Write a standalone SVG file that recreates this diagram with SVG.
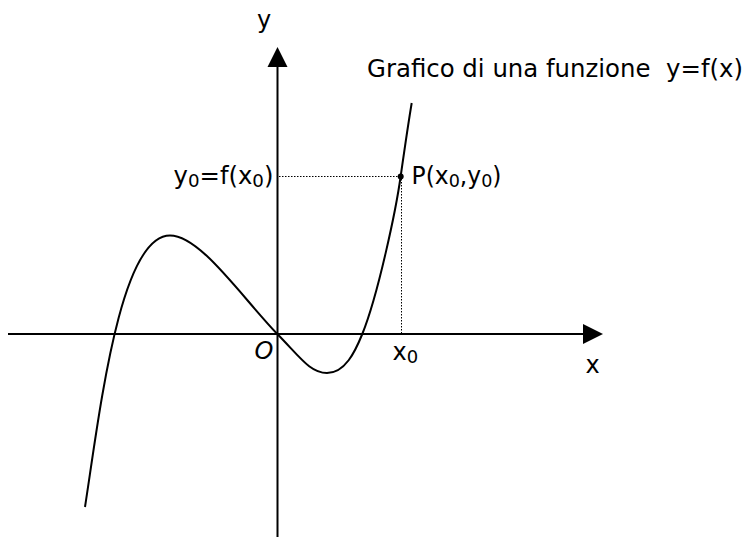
<svg xmlns="http://www.w3.org/2000/svg" width="749" height="539" viewBox="0 0 749 539">
<style>
text{font-family:"DejaVu Sans","Liberation Sans",sans-serif;fill:#000;font-size:24px}
.ax{stroke:#000;stroke-width:2;fill:none}
.cv{stroke:#000;stroke-width:2;fill:none}
.dot{stroke:#000;stroke-width:1;stroke-dasharray:1.5 1.5;fill:none}
.sub{font-size:18px}
</style>
<rect width="749" height="539" fill="#fff"/>
<g id="connectors">
<line class="ax" x1="8" y1="334" x2="585" y2="334"/>
<polygon points="583,324 603,334 583,344" fill="#000"/>
<line class="ax" x1="277.5" y1="537" x2="277.5" y2="65"/>
<polygon points="267.5,67 277.5,47 287.5,67" fill="#000"/>
<line class="dot" x1="279" y1="176.5" x2="399" y2="176.5"/>
<line class="dot" x1="401.5" y1="179" x2="401.5" y2="333"/>
</g>
<g id="curve">
<path class="cv" d="M85,507 C100,410 120,235.5 170,235.5 C200,235.5 240,295 277.3,334 C300,357 310,373 327,373 C345,373 355,352 362.3,334 C378,295 396,210 400.7,176 C403,160 408,125 411.7,103"/>
<circle cx="400.7" cy="176.5" r="3" fill="#000"/>
</g>
<g id="labels">
<text x="264" y="28" text-anchor="middle" font-size="25">y</text>
<text x="592.7" y="372.7" text-anchor="middle">x</text>
<text x="264" y="359.3" text-anchor="middle" font-style="italic" font-size="23">O</text>
<text x="392.5" y="360">x<tspan class="sub" dy="3.3">0</tspan></text>
<text x="173.5" y="183.5" textLength="100" lengthAdjust="spacingAndGlyphs">y<tspan class="sub" dy="3">0</tspan><tspan dy="-3">=f(x</tspan><tspan class="sub" dy="3">0</tspan><tspan dy="-3">)</tspan></text>
<text x="411.5" y="183.5" textLength="90" lengthAdjust="spacingAndGlyphs">P(x<tspan class="sub" dy="3">0</tspan><tspan dy="-3">,y</tspan><tspan class="sub" dy="3">0</tspan><tspan dy="-3">)</tspan></text>
<text x="367" y="76.5" font-size="23" textLength="376" lengthAdjust="spacingAndGlyphs" xml:space="preserve">Grafico di una funzione  y=f(x)</text>
</g>
</svg>
